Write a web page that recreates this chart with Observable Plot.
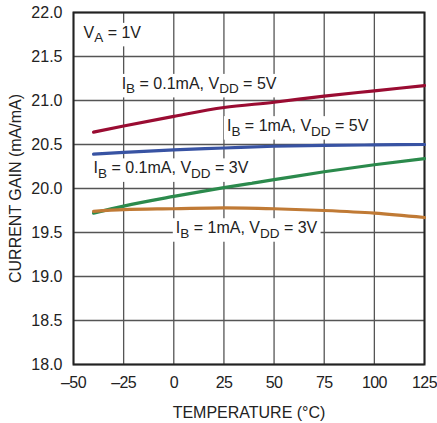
<!DOCTYPE html>
<html>
<head>
<meta charset="utf-8">
<script src="https://cdn.jsdelivr.net/npm/d3@7"></script>
<script src="https://cdn.jsdelivr.net/npm/@observablehq/plot@0.6"></script>
<style>
  html, body { margin: 0; padding: 0; background: #fff; }
  #chart { width: 437px; height: 423px; }
  #chart g[aria-label="x-axis tick label"] text { letter-spacing: -0.6px; }
</style>
</head>
<body>
<div id="chart"></div>
<script>
// Temperature (°C) sample points
const temps = [-40, -25, 0, 25, 50, 75, 100, 125];
// Current gain (mA/mA) per series
const gainIB01_VDD5 = [20.64, 20.71, 20.82, 20.92, 20.98, 21.05, 21.11, 21.17];
const gainIB1_VDD5  = [20.39, 20.41, 20.44, 20.46, 20.48, 20.49, 20.495, 20.50];
const gainIB01_VDD3 = [19.72, 19.80, 19.91, 20.01, 20.10, 20.19, 20.27, 20.34];
const gainIB1_VDD3  = [19.74, 19.76, 19.77, 19.78, 19.77, 19.75, 19.72, 19.67];

const seriesNames = ["IB01_VDD5", "IB1_VDD5", "IB01_VDD3", "IB1_VDD3"];
const seriesValues = [gainIB01_VDD5, gainIB1_VDD5, gainIB01_VDD3, gainIB1_VDD3];
const seriesColors = ["#9a0c32", "#3853a3", "#2b8a4c", "#c07a35"];

// Tick values
const xTicks = [-50, -25, 0, 25, 50, 75, 100, 125];
const yTicks = [18, 18.5, 19, 19.5, 20, 20.5, 21, 21.5, 22];

// Annotation labels ("_" marks a subscript run)
const labelText = ["V_A = 1V", "I_B = 0.1mA, V_DD = 5V", "I_B = 1mA, V_DD = 5V", "I_B = 0.1mA, V_DD = 3V", "I_B = 1mA, V_DD = 3V"];
const labelX = [-45, -26, 26.5, -40, 1];
const labelY = [21.77, 21.19, 20.71, 20.23, 19.55];

const table = [];
seriesNames.forEach((s, i) => temps.forEach((t, j) => table.push({series: s, temp: t, gain: seriesValues[i][j]})));
const labels = labelText.map((t, i) => ({text: t, x: labelX[i], y: labelY[i]}));

const font = "'Liberation Sans', Arial, sans-serif";

const chart = Plot.plot({
  width: 437,
  height: 423,
  marginLeft: 73,
  marginRight: 13,
  marginTop: 12,
  marginBottom: 59,
  style: {fontFamily: font, fontSize: "16px", color: "#222", background: "#fff"},
  x: {domain: [-50, 125], ticks: xTicks, tickSize: 0, tickPadding: 12,
      tickFormat: d => d < 0 ? "\u2013" + Math.abs(d) : String(d),
      label: "TEMPERATURE (°C)", labelAnchor: "center", labelOffset: 53, labelArrow: "none"},
  y: {domain: [18, 22], ticks: yTicks, tickSize: 0, tickPadding: 11,
      tickFormat: d3.format(".1f"),
      label: "CURRENT GAIN (mA/mA)", labelAnchor: "center", labelOffset: 64, labelArrow: "none"},
  color: {domain: seriesNames, range: seriesColors},
  marks: [
    Plot.gridX(xTicks, {stroke: "#555", strokeOpacity: 1, strokeWidth: 1.3}),
    Plot.gridY(yTicks, {stroke: "#555", strokeOpacity: 1, strokeWidth: 1.3}),
    Plot.frame({stroke: "#222", strokeWidth: 2}),
    Plot.line(table, {x: "temp", y: "gain", z: "series", stroke: "series", strokeWidth: 3.2, curve: "monotone-x"}),
    Plot.text(labels, {x: "x", y: "y", text: "text", textAnchor: "start", fill: "#222",
      fontSize: 16, fontFamily: font})
  ]
});

document.getElementById("chart").appendChild(chart);

// Render subscripts as tspans, and put a white box behind each label
d3.select(chart).selectAll("g[aria-label='text'] text").each(function() {
  const txt = this.textContent;
  const sel = d3.select(this);
  if (txt.includes("_")) {
    sel.text(null);
    const parts = txt.split(/(_[A-Z]+)/);
    let sub = false;
    parts.forEach(p => {
      if (!p) return;
      if (p.startsWith("_")) {
        sel.append("tspan").attr("dy", 4.5).attr("font-size", 13.5).text(p.slice(1));
        sub = true;
      } else {
        const t = sel.append("tspan").text(p);
        if (sub) { t.attr("dy", -4.5); sub = false; }
      }
    });
  }
  const b = this.getBBox();
  const tr = this.getAttribute("transform");
  const r = d3.select(this.parentNode).insert("rect", () => this)
    .attr("x", b.x - 3).attr("y", b.y - 1)
    .attr("width", b.width + 6).attr("height", b.height + 2)
    .attr("fill", "white").attr("stroke", "none");
  if (tr) r.attr("transform", tr);
});
</script>
</body>
</html>
